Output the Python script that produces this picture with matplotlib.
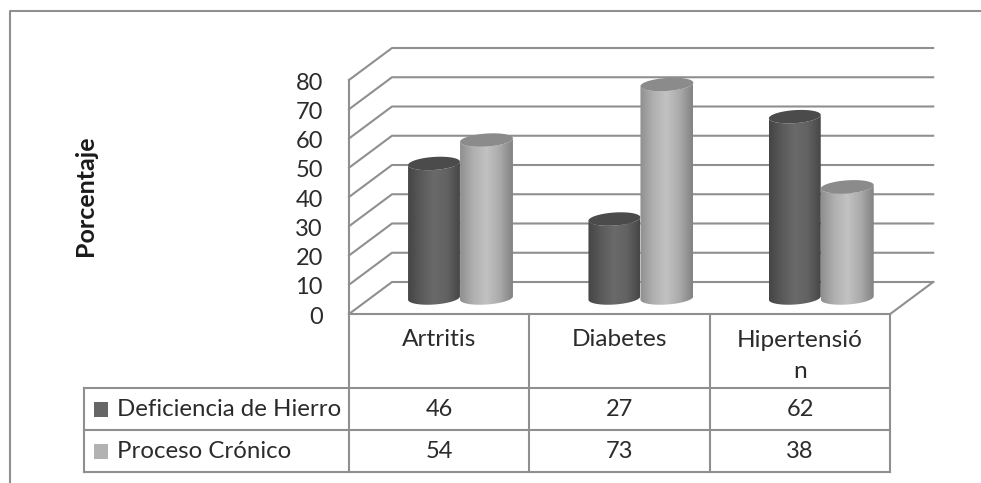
import numpy as np
import matplotlib
matplotlib.use("Agg")
import matplotlib.pyplot as plt
from matplotlib.colors import LinearSegmentedColormap
from matplotlib.patches import PathPatch, Rectangle
from matplotlib.path import Path

plt.rcParams['font.family'] = ['Lato', 'DejaVu Sans']

categories = ["Artritis", "Diabetes", "Hipertensió\nn"]
series_names = ["Deficiencia de Hierro", "Proceso Crónico"]
deficiencia = [46, 27, 62]
cronico = [54, 73, 38]
y_ticks = list(range(0, 90, 10))
y_title = "Porcentaje"

W, H = 981, 483
LINE = "#8f8f8f"
TEXT = "#2b2b2b"

# Axes covers the whole figure; x is in category widths, y in percent.
PX_PER_UNIT = 2.925
PX_PER_CAT = 180.4
FRONT_X0, FRONT_Y0 = 349.0, 314.0
DEPTH_X, DEPTH_Y = 43.0, 32.0


def dx(px):
    return (px - FRONT_X0) / PX_PER_CAT


def dy(py):
    return (FRONT_Y0 - py) / PX_PER_UNIT


fig = plt.figure(figsize=(W / 100, H / 100), dpi=100)
ax = fig.add_axes([0, 0, 1, 1])
ax.set_xlim(dx(0), dx(W))
ax.set_ylim(dy(H), dy(0))
ax.axis("off")

n = len(categories)
depth_x = DEPTH_X / PX_PER_CAT
depth_y = DEPTH_Y / PX_PER_UNIT
line_kw = dict(color=LINE, lw=1.5, solid_capstyle="projecting", zorder=1)

# Outer frame of the chart area
ax.plot([dx(981), dx(10), dx(10)], [dy(11), dy(11), dy(483)], **line_kw)

# Side wall, back wall gridlines and floor
for v in y_ticks:
    ax.plot([0, depth_x, n + depth_x], [v, v + depth_y, v + depth_y], **line_kw)
ax.plot([0, 0], [0, y_ticks[-1]], **line_kw)
ax.plot([n, n + depth_x], [0, depth_y], **line_kw)
for v in y_ticks:
    ax.text(dx(323), v - 0.4, str(v), ha="right", va="center_baseline", fontsize=17,
            color=TEXT)

ax.text(dx(85), dy(196), y_title, rotation=90, ha="center", va="center",
        fontsize=18, fontweight="bold", color="#1a1a1a")

# Data table below the plot
table_left = dx(84)
row_y = [dy(314), dy(388), dy(430), dy(472)]
ax.plot([table_left, n], [row_y[1]] * 2, **line_kw)
ax.plot([table_left, n], [row_y[2]] * 2, **line_kw)
ax.plot([table_left, n], [row_y[3]] * 2, **line_kw)
ax.plot([0, n], [row_y[0]] * 2, **line_kw)
ax.plot([table_left, table_left], [row_y[1], row_y[3]], **line_kw)
for i in range(n + 1):
    ax.plot([i, i], [row_y[0], row_y[3]], **line_kw)

for i, cat in enumerate(categories):
    ax.text(i + 0.5, dy(340) if "\n" not in cat else dy(356), cat, ha="center",
            va="center", fontsize=17.6, color=TEXT, linespacing=1.6)
    ax.text(i + 0.5, dy(409), str(deficiencia[i]), ha="center", va="center",
            fontsize=17, color=TEXT)
    ax.text(i + 0.5, dy(451), str(cronico[i]), ha="center", va="center",
            fontsize=17, color=TEXT)

legend_colors = ["#666666", "#b2b2b2"]
for name, color, ypx in zip(series_names, legend_colors, [409, 451]):
    ax.add_patch(Rectangle((dx(94), dy(ypx + 8)), 14 / PX_PER_CAT, 15 / PX_PER_UNIT,
                           facecolor=color, edgecolor="none", zorder=2))
    ax.text(dx(117), dy(ypx), name, ha="left", va="center", fontsize=17.3,
            color=TEXT)


def ellipse_xy(cx, cy, a, b, tilt, t):
    # Tilted ellipse outline in pixel offsets, screen y pointing down.
    x = a * np.cos(t)
    y = b * np.sin(t)
    c, s = np.cos(tilt), np.sin(tilt)
    return cx + x * c + y * s, cy - x * s + y * c


def cylinder(i, offset_px, width_px, value, cmap, top_color, z):
    left = i + dx(FRONT_X0 + 59 + offset_px)
    x_mid_px = (left * PX_PER_CAT + FRONT_X0) + width_px / 2
    a, b = width_px / 2, 6.5
    tilt = np.radians(4)
    base_py = 298.0
    top_py = base_py - value * PX_PER_UNIT

    # Body: straight sides joined by the lower half of each end ellipse
    t_low = np.linspace(0, np.pi, 50)
    bx, by = ellipse_xy(x_mid_px, base_py, a, b, tilt, t_low)
    tx, ty = ellipse_xy(x_mid_px, top_py, a, b, tilt, t_low[::-1])
    body = np.column_stack([dx(np.r_[bx, tx]), dy(np.r_[by, ty])])
    patch = PathPatch(Path(np.vstack([body, body[:1]])), facecolor="none",
                      edgecolor="none", zorder=z)
    ax.add_patch(patch)
    grad = np.linspace(0, 1, 128).reshape(1, -1)
    im = ax.imshow(grad, cmap=cmap, aspect="auto", zorder=z,
                   extent=(dx(x_mid_px - a), dx(x_mid_px + a), dy(base_py + 10),
                           dy(top_py - 10)), interpolation="bilinear")
    im.set_clip_path(patch)

    # Flat cap
    t_all = np.linspace(0, 2 * np.pi, 100)
    cx_, cy_ = ellipse_xy(x_mid_px, top_py, a, b, tilt, t_all)
    ax.fill(dx(cx_), dy(cy_), color=top_color, lw=0, zorder=z + 0.1)


dark_cmap = LinearSegmentedColormap.from_list(
    "dark", ["#454545", "#5a5a5a", "#6a6a6a", "#626262", "#474747"])
light_cmap = LinearSegmentedColormap.from_list(
    "light", ["#8f8f8f", "#b0b0b0", "#c2c2c2", "#ababab", "#828282"])

for i in range(n):
    cylinder(i, 0, 52, deficiencia[i], dark_cmap, "#4b4b4b", 3)
    cylinder(i, 52, 53, cronico[i], light_cmap, "#8b8b8b", 4)

ax.set_xlim(dx(0), dx(W))
ax.set_ylim(dy(H), dy(0))
fig.savefig("out.png", dpi=100, facecolor="white")
